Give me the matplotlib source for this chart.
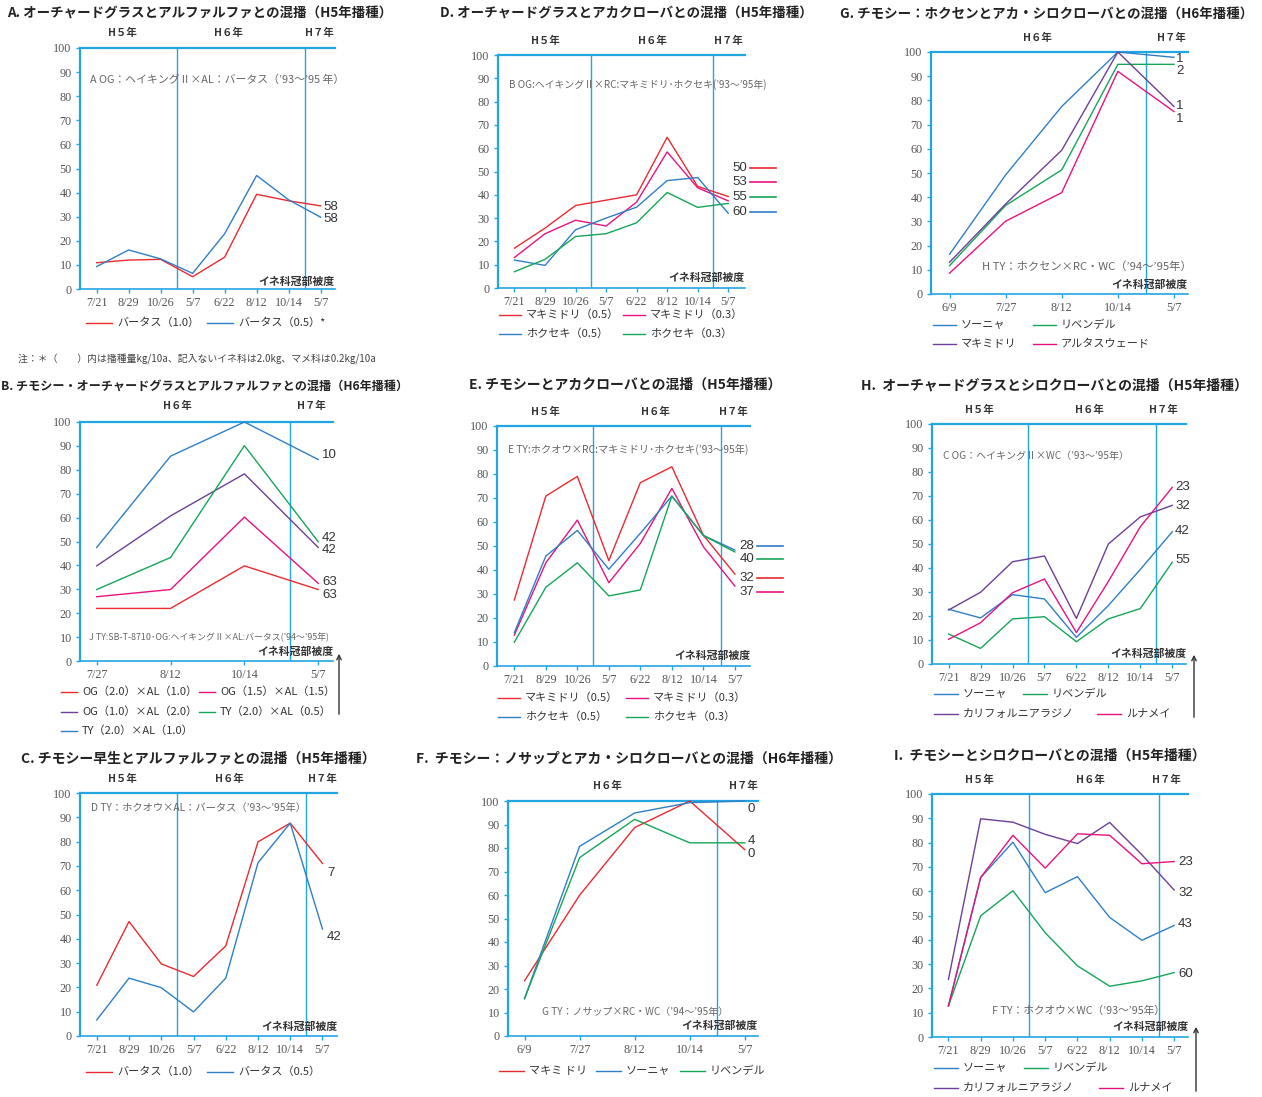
import matplotlib.pyplot as plt
from matplotlib.lines import Line2D
from matplotlib.patches import FancyArrowPatch

plt.rcParams['font.family'] = ['Noto Sans CJK JP', 'DejaVu Sans']

# ---- data ----
dates_h5 = ['7/21', '8/29', '10/26', '5/7', '6/22', '8/12', '10/14', '5/7']
dates_b = ['7/27', '8/12', '10/14', '5/7']
dates_h6 = ['6/9', '7/27', '8/12', '10/14', '5/7']

# A
a_bartas_10 = [10.9, 12.0, 12.3, 5.1, 13.2, 39.3, 36.6, 34.5]
a_bartas_05 = [9.3, 16.2, 12.5, 6.5, 22.9, 47.1, 37.0, 29.8]
a_names = ['バータス（1.0）', 'バータス（0.5）*']
a_ends = ['58', '58']

# D
d_maki_05 = [17.1, 25.7, 35.4, 37.7, 40.0, 64.7, 43.6, 39.3]
d_maki_03 = [13.1, 23.3, 29.1, 26.6, 36.9, 58.4, 43.0, 37.4]
d_hoku_05 = [12.0, 9.7, 25.0, 30.0, 34.7, 46.1, 47.4, 32.1]
d_hoku_03 = [7.0, 12.3, 22.1, 23.3, 28.0, 41.0, 34.6, 36.3]
d_names = ['マキミドリ（0.5）', 'マキミドリ（0.3）', 'ホクセキ（0.5）', 'ホクセキ（0.3）']
d_ends = ['50', '53', '55', '60']

# G
g_sonya = [16.4, 49.2, 77.5, 100, 97.8]
g_riven = [11.7, 36.6, 51.3, 94.9, 94.9]
g_maki = [13.1, 37.2, 59.4, 100, 77.5]
g_altas = [8.6, 30.1, 41.9, 92.0, 75.4]
g_names = ['ソーニャ', 'リベンデル', 'マキミドリ', 'アルタスウェード']
g_ends = ['1', '2', '1', '1']

# B
b_og20_al10 = [22.0, 22.0, 39.8, 29.9]
b_og15_al15 = [26.9, 29.9, 60.2, 32.5]
b_og10_al20 = [39.8, 60.7, 78.3, 47.5]
b_ty20_al05 = [29.9, 43.3, 90.1, 49.9]
b_ty20_al10 = [47.5, 85.7, 100, 84.3]
b_names = ['OG（2.0）×AL（1.0）', 'OG（1.5）×AL（1.5）', 'OG（1.0）×AL（2.0）',
           'TY（2.0）×AL（0.5）', 'TY（2.0）×AL（1.0）']
b_ends = ['10', '42', '42', '63', '63']

# E
e_maki_05 = [27.5, 70.8, 79.0, 43.9, 76.4, 83.0, 54.5, 38.3]
e_maki_03 = [12.9, 43.0, 60.8, 34.7, 51.1, 74.0, 49.7, 33.3]
e_hoku_05 = [13.9, 45.8, 56.5, 40.3, 55.3, 70.8, 54.4, 48.3]
e_hoku_03 = [9.9, 32.8, 43.0, 29.2, 31.7, 70.8, 54.4, 47.5]
e_names = ['マキミドリ（0.5）', 'マキミドリ（0.3）', 'ホクセキ（0.5）', 'ホクセキ（0.3）']
e_ends = ['28', '40', '32', '37']

# H
h_sonya = [22.8, 19.2, 28.9, 27.1, 11.1, 24.4, 39.4, 55.1]
h_riven = [12.5, 6.5, 18.8, 19.7, 9.3, 18.8, 23.1, 42.4]
h_cal = [22.5, 29.9, 42.6, 45.0, 19.0, 50.0, 61.3, 66.1]
h_luna = [10.3, 17.2, 29.7, 35.4, 13.1, 34.4, 57.2, 73.6]
wc_names = ['ソーニャ', 'リベンデル', 'カリフォルニアラジノ', 'ルナメイ']
h_ends = ['23', '32', '42', '55']

# C
c_bartas_10 = [20.9, 47.1, 29.7, 24.5, 37.1, 79.9, 87.6, 71.0]
c_bartas_05 = [6.6, 23.8, 19.9, 9.9, 23.8, 71.3, 87.6, 44.0]
c_names = ['バータス（1.0）', 'バータス（0.5）']
c_ends = ['7', '42']

# F
f_maki = [23.5, 59.9, 88.7, 100, 79.3]
f_sonya = [15.9, 80.7, 94.9, 99.3, 100]
f_riven = [15.9, 75.9, 92.2, 82.2, 82.2]
f_names = ['マキミ ドリ', 'ソーニャ', 'リベンデル']
f_ends = ['0', '4', '0']

# I
i_sonya = [12.8, 65.6, 80.2, 59.4, 66.0, 49.2, 39.8, 45.9]
i_riven = [12.8, 49.9, 60.2, 42.9, 29.3, 20.9, 23.1, 26.5]
i_cal = [23.7, 89.8, 88.4, 83.4, 79.6, 88.3, 75.0, 60.5]
i_luna = [12.8, 65.7, 83.0, 69.5, 83.6, 83.0, 71.3, 72.2]
i_ends = ['23', '32', '43', '60']

# ---- styles ----
AX_C = '#22a6e2'
RED = '#ea2a30'
MAG = '#e8127f'
BLUE = '#2f7ec6'
GREEN = '#16a558'
PURP = '#6d3f98'
TXT = '#333333'
GRAY = '#666666'

W, H = 1262, 1097
fig = plt.figure(figsize=(W / 100, H / 100), dpi=100)


def fx(px):
    return px / W


def fy(py):
    return 1 - py / H


def draw_panel(box, xlabels, xlim, vlines, series, colors, names, title, title_pos,
               years, years_y, note, note_pos, cover_pos, legend_pos, leg_len,
               ends, end_pos, end_ha='left', end_keys=None, arrow=None, title_size=10,
               note_size=7.8):
    l, t, r, b = box
    ax = fig.add_axes([fx(l), fy(b), (r - l) / W, (b - t) / H])
    x = list(range(len(xlabels)))
    for v in vlines:
        ax.axvline(v, color=AX_C, lw=1.0, zorder=1)
    for vals, c in zip(series, colors):
        ax.plot(x, vals, color=c, lw=1.0, clip_on=False, zorder=3)
    ax.set_xlim(xlim)
    ax.set_ylim(0, 100)
    ax.set_yticks(range(0, 101, 10))
    ax.set_xticks(x)
    ax.set_xticklabels(xlabels)
    ax.spines['right'].set_visible(False)
    ax.spines['left'].set_color(AX_C)
    ax.spines['left'].set_linewidth(1.6)
    ax.spines['top'].set_color(AX_C)
    ax.spines['top'].set_linewidth(1.6)
    ax.spines['bottom'].set_color(AX_C)
    ax.spines['bottom'].set_linewidth(1.2)
    ax.tick_params(colors=AX_C, length=3, width=1, labelcolor='#555555',
                   labelsize=8.7, pad=3, labelfontfamily='Liberation Serif')

    fig.text(fx(title_pos[0]), fy(title_pos[1]), title, ha='left', va='center',
             fontsize=title_size, fontweight='bold', color='#222222')
    for xp, lab in years:
        fig.text(fx(xp), fy(years_y), lab, ha='center', va='center',
                 fontsize=7.5, fontweight='bold', color=TXT)
    fig.text(fx(note_pos[0]), fy(note_pos[1]), note, ha='left', va='center',
             fontsize=note_size, color=GRAY)
    fig.text(fx(cover_pos[0]), fy(cover_pos[1]), 'イネ科冠部被度', ha='right',
             va='center', fontsize=7.8, fontweight='bold', color=TXT)

    for (lx, ly), c, name in zip(legend_pos, colors, names):
        fig.add_artist(Line2D([fx(lx), fx(lx + leg_len)], [fy(ly), fy(ly)],
                              color=c, lw=1.0, transform=fig.transFigure))
        fig.text(fx(lx + leg_len + 5), fy(ly), name, ha='left', va='center',
                 fontsize=8, color=TXT)

    for i, (ex, ey) in enumerate(end_pos):
        fig.text(fx(ex), fy(ey), ends[i], ha=end_ha, va='center', fontsize=9.5,
                 color=TXT, family='Liberation Sans')
        if end_keys:
            kc, k0, k1 = end_keys[i]
            fig.add_artist(Line2D([fx(k0), fx(k1)], [fy(ey), fy(ey)], color=kc,
                                  lw=1.2, transform=fig.transFigure))
    if arrow:
        axp, y0, y1 = arrow
        fig.add_artist(FancyArrowPatch((fx(axp), fy(y0)), (fx(axp), fy(y1)),
                                       transform=fig.transFigure, arrowstyle='->',
                                       mutation_scale=8, color='#333333', lw=1.0))
    return ax


# A
draw_panel((80, 48, 335, 289), dates_h5, (-0.52, 7.45), [2.5, 6.5],
           [a_bartas_10, a_bartas_05], [RED, BLUE], a_names,
           'A. オーチャードグラスとアルファルファとの混播（H5年播種）', (7, 13),
           [(122, 'H５年'), (228, 'H６年'), (319, 'H７年')], 33,
           'A OG：ヘイキングⅡ×AL：バータス（’93～’95 年）', (90, 80), (334, 282),
           [(86, 323), (207, 323)], 26,
           a_ends, [(323, 207), (323, 219)], title_size=9.7)
fig.text(fx(18), fy(359), '注：＊（　　）内は播種量kg/10a、記入ないイネ科は2.0kg、マメ科は0.2kg/10a',
         ha='left', va='center', fontsize=7.1, color='#444444')

# D
draw_panel((498, 55, 745, 288), dates_h5, (-0.54, 7.55), [2.5, 6.5],
           [d_maki_05, d_maki_03, d_hoku_05, d_hoku_03], [RED, MAG, BLUE, GREEN], d_names,
           'D. オーチャードグラスとアカクローバとの混播（H5年播種）', (440, 13),
           [(545, 'H５年'), (652, 'H６年'), (728, 'H７年')], 41,
           'B OG:ヘイキングⅡ×RC:マキミドリ･ホクセキ(’93～’95年)', (509, 85), (744, 278),
           [(499, 315), (623, 315), (499, 334), (623, 334)], 22,
           d_ends, [(747, 168), (747, 182), (747, 197), (747, 212)], end_ha='right',
           end_keys=[(RED, 750, 776), (MAG, 750, 776), (GREEN, 750, 776), (BLUE, 750, 776)],
           title_size=9.7, note_size=7.1)

# G
draw_panel((931, 52, 1188, 294), dates_h6, (-0.33, 4.25), [3.5],
           [g_sonya, g_riven, g_maki, g_altas], [BLUE, GREEN, PURP, MAG], g_names,
           'G. チモシー：ホクセンとアカ・シロクローバとの混播（H6年播種）', (840, 14),
           [(1037, 'H６年'), (1171, 'H７年')], 38,
           'H TY：ホクセン×RC・WC（’94～’95年）', (982, 267), (1187, 285),
           [(933, 325), (1033, 325), (933, 344), (1033, 344)], 23,
           g_ends, [(1180, 59), (1180, 71), (1180, 106), (1180, 119)], end_ha='center',
           title_size=9.7, note_size=8.1)

# B
draw_panel((80, 422, 333, 661), dates_b, (-0.226, 3.2), [2.62],
           [b_og20_al10, b_og15_al15, b_og10_al20, b_ty20_al05, b_ty20_al10],
           [RED, MAG, PURP, GREEN, BLUE], b_names,
           'B. チモシー・オーチャードグラスとアルファルファとの混播（H6年播種）', (1, 386),
           [(177, 'H６年'), (311, 'H７年')], 406,
           'J TY:SB-T-8710･OG:ヘイキングⅡ×AL:バータス(’94～’95年)', (89, 637), (333, 652),
           [(61, 692), (199, 692), (61, 712), (199, 712), (61, 731)], 16,
           b_ends, [(322, 455), (322, 538), (322, 550), (322, 582), (322, 595)],
           arrow=(339, 717, 651), title_size=8.7, note_size=6.4)

# E
draw_panel((497, 426, 750, 666), dates_h5, (-0.55, 7.48), [2.5, 6.55],
           [e_maki_05, e_maki_03, e_hoku_05, e_hoku_03], [RED, MAG, BLUE, GREEN], e_names,
           'E. チモシーとアカクローバとの混播（H5年播種）', (469, 385),
           [(545, 'H５年'), (655, 'H６年'), (733, 'H７年')], 412,
           'E TY:ホクオウ×RC:マキミドリ･ホクセキ(’93～95年)', (508, 449), (750, 656),
           [(498, 698), (626, 698), (498, 717), (626, 717)], 22,
           e_ends, [(754, 546), (754, 559), (754, 578), (754, 592)], end_ha='right',
           end_keys=[(BLUE, 757, 783), (GREEN, 757, 783), (RED, 757, 783), (MAG, 757, 783)],
           note_size=7.4)

# H
draw_panel((932, 424, 1186, 664), dates_h5, (-0.52, 7.43), [2.5, 6.5],
           [h_sonya, h_riven, h_cal, h_luna], [BLUE, GREEN, PURP, MAG], wc_names,
           'H.  オーチャードグラスとシロクローバとの混播（H5年播種）', (861, 386),
           [(979, 'H５年'), (1089, 'H６年'), (1163, 'H７年')], 410,
           'C OG：ヘイキングⅡ×WC（’93～’95年）', (943, 456), (1186, 654),
           [(934, 694), (1023, 694), (934, 714), (1097, 714)], 24,
           h_ends, [(1175, 487), (1175, 506), (1175, 531), (1175, 560)],
           arrow=(1194, 720, 652), note_size=7.2)

# C
draw_panel((80, 793, 337, 1036), dates_h5, (-0.52, 7.45), [2.5, 6.48],
           [c_bartas_10, c_bartas_05], [RED, BLUE], c_names,
           'C. チモシー早生とアルファルファとの混播（H5年播種）', (21, 758),
           [(122, 'H５年'), (229, 'H６年'), (322, 'H７年')], 779,
           'D TY：ホクオウ×AL：バータス（’93～’95年）', (91, 808), (337, 1027),
           [(86, 1072), (207, 1072)], 26,
           c_ends, [(327, 873), (327, 937)], note_size=7.4)

# F
draw_panel((508, 801, 758, 1036), dates_h6, (-0.3, 4.24), [3.5],
           [f_maki, f_sonya, f_riven], [RED, BLUE, GREEN], f_names,
           'F.  チモシー：ノサップとアカ・シロクローバとの混播（H6年播種）', (416, 759),
           [(607, 'H６年'), (743, 'H７年')], 786,
           'G TY：ノサップ×RC・WC（’94～’95年）', (542, 1012), (757, 1026),
           [(499, 1071), (596, 1071), (680, 1071)], 25,
           f_ends, [(751, 809), (751, 841), (751, 854)], end_ha='center', note_size=7.2)

# I
draw_panel((932, 794, 1188, 1037), dates_h5, (-0.51, 7.43), [2.5, 6.53],
           [i_sonya, i_riven, i_cal, i_luna], [BLUE, GREEN, PURP, MAG], wc_names,
           'I.  チモシーとシロクローバとの混播（H5年播種）', (894, 756),
           [(979, 'H５年'), (1090, 'H６年'), (1166, 'H７年')], 780,
           'F TY：ホクオウ×WC（’93～’95年）', (992, 1011), (1188, 1027),
           [(934, 1068), (1024, 1068), (934, 1088), (1099, 1088)], 24,
           i_ends, [(1178, 862), (1178, 893), (1178, 924), (1178, 974)],
           arrow=(1196, 1094, 1024), note_size=7.7)

plt.savefig('out.png', dpi=100)
